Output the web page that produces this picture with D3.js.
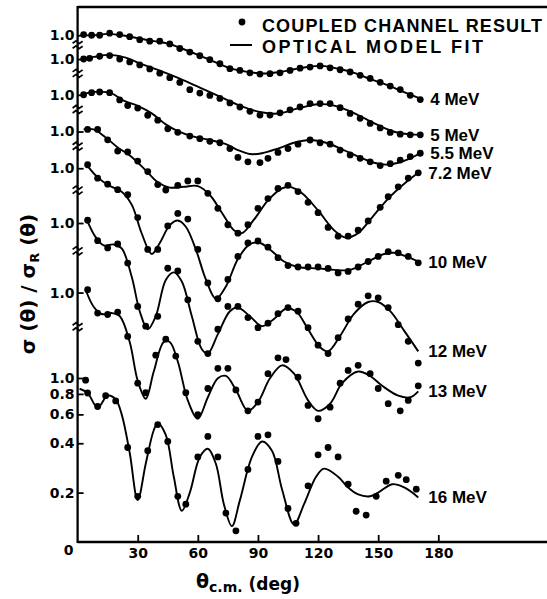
<!DOCTYPE html>
<html>
<head>
<meta charset="utf-8">
<script src="https://cdn.jsdelivr.net/npm/d3@7"></script>
<style>
  body { margin: 0; background: #fff; }
  svg { display: block; font-family: 'DejaVu Sans', sans-serif; font-weight: bold; }
</style>
</head>
<body>
<svg id="chart" width="547" height="599"></svg>
<script>
// Energies, stacked from top to bottom
var energyLabels = ['4 MeV', '5 MeV', '5.5 MeV', '7.2 MeV', '10 MeV', '12 MeV', '13 MeV', '16 MeV']
// How many decades each curve is lifted above the 16 MeV one
var decadeShift = [2.09, 1.945, 1.727, 1.503, 1.279, 0.945, 0.521, 0]

// Coupled channel result (dots): [theta, sigma/sigmaR]
var cc4 = [[3,1.01],[7,1.0],[11,1.0],[16,1.03],[21,1.01],[26,0.98],[31,0.94],[36,0.92],[41,0.92],[46,0.885],[51,0.83],[56,0.79],[61,0.75],[66,0.71],[71,0.67],[76,0.625],[81,0.61],[86,0.59],[91,0.58],[96,0.583],[101,0.59],[106,0.61],[111,0.63],[116,0.64],[121,0.65],[126,0.633],[131,0.616],[136,0.597],[141,0.57],[146,0.545],[151,0.516],[156,0.49],[161,0.466],[166,0.43],[171,0.405]]
var cc5 = [[3,1.0],[6,1.01],[11,1.04],[16,1.05],[21,1.0],[26,0.96],[31,0.92],[36,0.87],[41,0.82],[46,0.77],[51,0.72],[56,0.65],[61,0.62],[66,0.6],[71,0.575],[76,0.54],[81,0.51],[86,0.48],[91,0.455],[96,0.455],[101,0.47],[106,0.49],[111,0.51],[116,0.535],[121,0.535],[126,0.535],[131,0.505],[136,0.466],[141,0.435],[146,0.405],[151,0.38],[156,0.357],[161,0.348],[166,0.345],[171,0.345]]
var cc55 = [[3,1.0],[7,1.03],[11,1.04],[16,1.03],[21,0.93],[25,0.86],[30,0.83],[35,0.75],[40,0.7],[45,0.62],[50,0.59],[56,0.56],[61,0.54],[66,0.52],[71,0.51],[76,0.47],[80,0.415],[85,0.39],[91,0.386],[95,0.41],[100,0.445],[105,0.47],[110,0.5],[116,0.53],[121,0.51],[126,0.5],[131,0.46],[136,0.43],[141,0.41],[146,0.39],[151,0.37],[156,0.38],[161,0.4],[166,0.42],[171,0.44]]
var cc72 = [[5,1.03],[10,1.03],[15,0.89],[20,0.76],[25,0.75],[30,0.66],[35,0.57],[40,0.475],[44,0.44],[50,0.47],[55,0.5],[60,0.5],[65,0.42],[70,0.34],[75,0.27],[80,0.24],[85,0.27],[90,0.34],[95,0.39],[100,0.45],[105,0.47],[110,0.43],[115,0.37],[120,0.32],[125,0.26],[130,0.23],[135,0.23],[140,0.25],[145,0.285],[151,0.345],[155,0.4],[160,0.46],[165,0.52],[170,0.56]]
var cc10 = [[5,1.05],[10,0.87],[15,0.8],[20,0.74],[25,0.69],[30,0.5],[35,0.32],[40,0.32],[45,0.445],[50,0.53],[55,0.49],[60,0.32],[65,0.2],[70,0.16],[75,0.21],[80,0.29],[85,0.35],[90,0.36],[95,0.33],[100,0.285],[105,0.255],[110,0.25],[115,0.25],[120,0.25],[125,0.245],[130,0.23],[135,0.235],[140,0.25],[145,0.27],[150,0.29],[155,0.31],[160,0.305],[165,0.29],[170,0.265]]
var cc12 = [[5,1.04],[10,0.78],[15,0.705],[20,0.745],[25,0.57],[30,0.31],[34,0.235],[40,0.27],[45,0.53],[50,0.51],[55,0.34],[60,0.19],[65,0.16],[70,0.225],[75,0.31],[80,0.31],[85,0.265],[90,0.23],[95,0.245],[100,0.28],[105,0.305],[110,0.29],[115,0.23],[120,0.18],[125,0.16],[130,0.2],[135,0.26],[140,0.32],[145,0.36],[150,0.35],[155,0.305],[160,0.24],[165,0.19],[170,0.14]]
var cc13 = [[5,1.04],[10,0.75],[15,0.735],[20,0.76],[25,0.54],[30,0.28],[34,0.245],[39,0.415],[44,0.52],[49,0.41],[54,0.245],[60,0.18],[65,0.26],[70,0.345],[75,0.345],[79,0.255],[85,0.19],[90,0.215],[95,0.32],[100,0.4],[104,0.39],[110,0.305],[115,0.205],[120,0.17],[126,0.2],[131,0.28],[135,0.335],[140,0.36],[146,0.32],[150,0.26],[155,0.21],[161,0.19],[165,0.22],[170,0.27]]
var cc16 = [[4,0.97],[5,0.81],[10,0.67],[14,0.78],[19,0.725],[25,0.377],[30,0.19],[35,0.36],[40,0.52],[45,0.41],[50,0.19],[54,0.17],[60,0.33],[65,0.44],[70,0.33],[74,0.15],[79,0.117],[85,0.277],[90,0.44],[95,0.45],[100,0.31],[105,0.16],[109,0.13],[115,0.22],[120,0.34],[125,0.377],[130,0.33],[135,0.225],[139,0.154],[144,0.146],[149,0.19],[154,0.235],[160,0.255],[164,0.24],[169,0.21]]

// Optical model fit (lines): [theta, sigma/sigmaR]
var om4 = [[2,1.0],[8,1.0],[15,1.02],[22,1.0],[30,0.96],[38,0.92],[45,0.89],[52,0.83],[60,0.76],[68,0.69],[76,0.63],[84,0.6],[92,0.585],[100,0.595],[108,0.62],[116,0.645],[122,0.65],[130,0.625],[138,0.59],[146,0.54],[154,0.5],[162,0.455],[171,0.41]]
var om5 = [[2,1.0],[8,1.03],[16,1.06],[24,1.02],[31,0.94],[41,0.85],[51,0.76],[61,0.67],[71,0.59],[81,0.52],[91,0.475],[100,0.465],[110,0.5],[120,0.53],[128,0.52],[136,0.48],[144,0.43],[152,0.385],[160,0.355],[166,0.347],[171,0.345]]
var om55 = [[2,1.0],[6,1.03],[11,1.045],[17,1.02],[23,0.92],[30,0.855],[37,0.77],[44,0.66],[50,0.6],[58,0.555],[66,0.53],[74,0.5],[80,0.46],[86,0.435],[92,0.44],[100,0.47],[108,0.51],[116,0.53],[124,0.51],[132,0.465],[140,0.42],[148,0.385],[154,0.375],[160,0.385],[166,0.41],[171,0.44]]
var om72 = [[3,1.03],[8,1.03],[14,0.92],[20,0.8],[27,0.7],[34,0.58],[40,0.49],[46,0.455],[53,0.46],[60,0.465],[66,0.41],[72,0.32],[78,0.25],[82,0.24],[88,0.29],[95,0.38],[102,0.45],[106,0.46],[112,0.42],[120,0.33],[128,0.25],[134,0.225],[140,0.24],[147,0.3],[155,0.39],[163,0.48],[170,0.56]]
var om10 = [[5,1.03],[10,0.88],[16,0.78],[22,0.72],[27,0.6],[32,0.4],[37,0.3],[41,0.35],[46,0.45],[50,0.48],[54,0.44],[59,0.32],[64,0.21],[69,0.16],[74,0.19],[80,0.28],[86,0.345],[91,0.35],[96,0.32],[103,0.27],[110,0.25],[120,0.245],[128,0.24],[136,0.24],[145,0.27],[153,0.3],[158,0.305],[164,0.29],[170,0.27]]
var om12 = [[5,1.02],[9,0.82],[13,0.73],[18,0.74],[22,0.7],[27,0.47],[31,0.29],[35,0.225],[39,0.27],[44,0.45],[48,0.5],[52,0.44],[57,0.27],[62,0.17],[65,0.16],[70,0.21],[76,0.29],[80,0.305],[86,0.27],[92,0.235],[98,0.26],[104,0.3],[109,0.29],[115,0.225],[121,0.175],[125,0.165],[131,0.205],[138,0.28],[145,0.33],[150,0.33],[156,0.29],[163,0.22],[170,0.165]]
var om13 = [[4,1.04],[8,0.82],[12,0.74],[17,0.75],[21,0.72],[26,0.5],[30,0.29],[34,0.225],[38,0.33],[43,0.5],[46,0.5],[50,0.38],[55,0.22],[60,0.17],[65,0.23],[70,0.3],[74,0.31],[79,0.255],[85,0.19],[90,0.215],[96,0.3],[102,0.36],[108,0.32],[115,0.22],[120,0.19],[126,0.21],[132,0.28],[140,0.33],[146,0.31],[152,0.27],[160,0.235],[166,0.23],[170,0.25]]
var om16 = [[1,0.86],[5,0.81],[10,0.66],[15,0.78],[19,0.74],[22,0.6],[26,0.35],[30,0.18],[34,0.3],[38,0.48],[40,0.53],[44,0.45],[48,0.25],[52,0.155],[56,0.2],[61,0.33],[65,0.37],[69,0.3],[73,0.17],[77,0.125],[81,0.18],[87,0.33],[92,0.41],[97,0.36],[102,0.21],[108,0.128],[113,0.17],[119,0.25],[123,0.28],[130,0.25],[135,0.215],[140,0.195],[146,0.19],[150,0.2],[157,0.225],[163,0.215],[170,0.187]]

var ccSeries = [cc4, cc5, cc55, cc72, cc10, cc12, cc13, cc16]
var omSeries = [om4, om5, om55, om72, om10, om12, om13, om16]

// Tick labels
var xTicks = [30, 60, 90, 120, 150, 180]
var yTicks16 = [0.2, 0.4, 0.6, 0.8, 1.0]

var width = 547
var frameTop = 7
var svg = d3.select('#chart')

var x = d3.scaleLinear().domain([0, 180]).range([77.6, 438.3])
// log scale of the bottom (16 MeV) curve; the others are lifted by decadeShift
var y = d3.scaleLog().domain([0.1, 1]).range([542, 378])

function yk(v, k) {
  return y(v * Math.pow(10, decadeShift[k]))
}

// frame lines
function hline(yy) {
  svg.append('line').attr('x1', x(0)).attr('x2', width).attr('y1', yy).attr('y2', yy)
    .attr('stroke', '#000').attr('stroke-width', 2.3)
}
hline(frameTop)
hline(y(0.1))
svg.append('line').attr('x1', x(0)).attr('x2', x(0)).attr('y1', frameTop - 1).attr('y2', y(0.1) + 1)
  .attr('stroke', '#000').attr('stroke-width', 2.3)

// x axis
var xAxis = svg.append('g')
  .attr('transform', 'translate(0,' + y(0.1) + ')')
  .call(d3.axisBottom(x).tickValues(xTicks).tickSizeInner(-7).tickSizeOuter(0).tickPadding(6))
xAxis.select('.domain').remove()
xAxis.selectAll('line').attr('stroke-width', 1.8)
xAxis.selectAll('text').attr('font-size', 14).attr('font-family', 'DejaVu Sans').attr('font-weight', 'bold')

svg.append('text').attr('x', x(0) - 9).attr('y', y(0.1) + 13)
  .attr('text-anchor', 'middle').attr('font-size', 14).text('0')

// y axis: 16 MeV ticks
function styleY(g) {
  g.select('.domain').remove()
  g.selectAll('line').attr('stroke-width', 1.8)
  g.selectAll('text').attr('font-size', 14).attr('font-family', 'DejaVu Sans').attr('font-weight', 'bold')
}
var yAxis16 = svg.append('g')
  .attr('transform', 'translate(' + x(0) + ',0)')
  .call(d3.axisLeft(y).tickValues(yTicks16).tickFormat(d3.format('.1f')).tickSizeInner(-6).tickSizeOuter(0).tickPadding(3))
styleY(yAxis16)

// "1.0" ticks for the lifted curves
decadeShift.slice(0, 7).forEach(function(s, k) {
  var g = svg.append('g')
    .attr('transform', 'translate(' + x(0) + ',' + (yk(1, k) - y(1)) + ')')
    .call(d3.axisLeft(y).tickValues([1]).tickFormat(d3.format('.1f')).tickSizeInner(-6).tickSizeOuter(0).tickPadding(3))
  styleY(g)
})

// axis breaks between stacked curves
d3.range(7).forEach(function(k) {
  var yb = yk(1, k) + 0.4 * (yk(1, k + 1) - yk(1, k))
  var x0 = x(0)
  ;[-2.5, 2.5].forEach(function(dy) {
    svg.append('path')
      .attr('d', 'M' + (x0 - 5) + ',' + (yb + dy + 1) + ' L' + (x0 - 1.5) + ',' + (yb + dy - 1.5) +
        ' L' + (x0 + 1.5) + ',' + (yb + dy + 1.5) + ' L' + (x0 + 5) + ',' + (yb + dy - 1))
      .attr('fill', 'none').attr('stroke', '#000').attr('stroke-width', 1.7)
  })
})

// fit lines
omSeries.forEach(function(series, k) {
  var line = d3.line()
    .x(function(d) { return x(d[0]) })
    .y(function(d) { return yk(d[1], k) })
    .curve(d3.curveCatmullRom.alpha(0.5))
  svg.append('path').datum(series).attr('d', line)
    .attr('fill', 'none').attr('stroke', '#000').attr('stroke-width', 1.9)
})

// coupled channel dots
ccSeries.forEach(function(series, k) {
  svg.append('g').selectAll('circle').data(series).enter().append('circle')
    .attr('cx', function(d) { return x(d[0]) })
    .attr('cy', function(d) { return yk(d[1], k) })
    .attr('r', 3.4)
    .attr('fill', '#000')
})

// energy labels at the end of each fit line
omSeries.forEach(function(series, k) {
  var last = series[series.length - 1]
  svg.append('text')
    .attr('x', x(last[0]) + 10)
    .attr('y', yk(last[1], k) + 6)
    .attr('font-family', 'Liberation Sans, Arial, sans-serif')
    .attr('font-size', 17)
    .text(energyLabels[k])
})

// legend
svg.append('circle').attr('cx', 242).attr('cy', 22).attr('r', 3.4).attr('fill', '#000')
svg.append('text').attr('x', 262).attr('y', 32)
  .attr('font-family', 'Liberation Sans, Arial, sans-serif').attr('font-size', 18)
  .attr('textLength', 280).attr('lengthAdjust', 'spacing')
  .text('COUPLED CHANNEL RESULT')
svg.append('line').attr('x1', 230).attr('x2', 252).attr('y1', 45).attr('y2', 45)
  .attr('stroke', '#000').attr('stroke-width', 2)
svg.append('text').attr('x', 262).attr('y', 53)
  .attr('font-family', 'Liberation Sans, Arial, sans-serif').attr('font-size', 18)
  .attr('textLength', 221).attr('lengthAdjust', 'spacing')
  .text('OPTICAL MODEL FIT')

// y title
var yTitle = svg.append('text')
  .attr('transform', 'translate(35,284) rotate(-90)')
  .attr('text-anchor', 'middle')
  .attr('font-size', 20)
yTitle.append('tspan').text('σ (θ) / σ')
yTitle.append('tspan').attr('font-size', 13).attr('dy', 4).text('R')
yTitle.append('tspan').attr('dy', -4).text(' (θ)')

// x title
var xTitle = svg.append('text').attr('x', 196).attr('y', 588).attr('font-size', 19)
xTitle.append('tspan').text('θ')
xTitle.append('tspan').attr('font-size', 14).attr('dy', 4).text('c.m.')
xTitle.append('tspan').attr('font-size', 17).attr('dy', -2).text(' (deg)')
</script>
</body>
</html>
